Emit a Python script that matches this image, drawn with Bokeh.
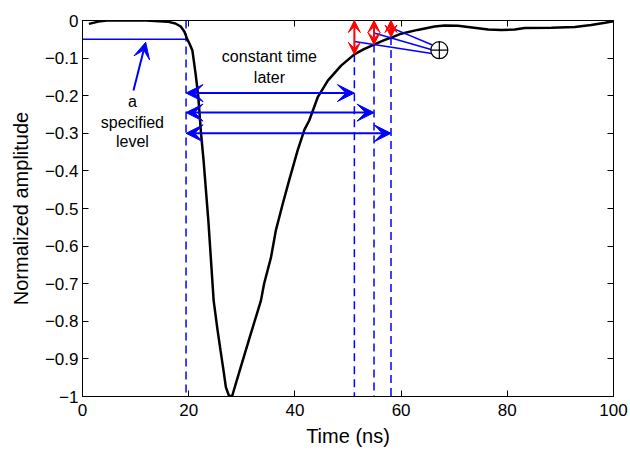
from bokeh.plotting import figure
from bokeh.models import (Range1d, FixedTicker, LinearAxis, Arrow, VeeHead,
                          ColumnDataSource)
from bokeh.core.properties import value
from bokeh.embed import file_html
from bokeh.resources import INLINE

# ---- data ----
t_ns = [1.2, 3.0, 4.6, 8.0, 12.0, 16.0, 17.5, 18.5, 19.2, 19.7, 20.2, 20.7,
        21.3, 21.8, 22.3, 22.8, 23.7, 24.7, 25.4, 26.0, 26.6, 27.0, 27.6,
        28.2, 29.0, 29.8, 31.7, 33.6, 34.2, 35.5, 36.4, 37.7, 38.9, 40.5,
        41.8, 42.7, 44.3, 46.2, 48.7, 51.2, 53.0, 54.9, 56.7, 58.4, 60.0,
        63.1, 66.3, 68.2, 70.7, 72.6, 76.4, 78.9, 81.4, 83.3, 88.3, 92.7,
        95.8, 98.4, 100.0]
amplitude = [-0.009, -0.003, 0.0, 0.0, 0.0, -0.003, -0.008, -0.016, -0.03,
             -0.049, -0.063, -0.08, -0.142, -0.201, -0.297, -0.372, -0.532,
             -0.745, -0.82, -0.878, -0.935, -0.975, -0.999, -0.998, -0.96,
             -0.922, -0.833, -0.745, -0.70, -0.63, -0.559, -0.488, -0.426,
             -0.346, -0.29, -0.266, -0.204, -0.16, -0.12, -0.09, -0.076,
             -0.064, -0.053, -0.044, -0.035, -0.025, -0.016, -0.013, -0.014,
             -0.017, -0.024, -0.025, -0.024, -0.020, -0.019, -0.017, -0.012,
             -0.006, -0.002]

specified_level = -0.05
trigger_time = 19.5
later_times = [51.2, 54.9, 58.1]
later_amps = [-0.09, -0.064, -0.044]
span_levels = [-0.193, -0.245, -0.30]
tap_amps = [-0.056, -0.033, -0.019]
sum_in_x = [65.8, 65.8, 65.9]
sum_in_y = [-0.088, -0.078, -0.065]
sum_node = (67.2, -0.079)
pointer_tail = (9.6, -0.186)
pointer_head = (11.9, -0.058)
level_text = ["a", "specified", "level"]
level_text_x = [9.4, 9.4, 9.4]
level_text_y = [-0.216, -0.27, -0.322]
const_text = ["constant time", "later"]
const_text_x = [35.2, 35.2]
const_text_y = [-0.097, -0.152]

x_ticks = [0, 20, 40, 60, 80, 100]
y_ticks = [0, -0.1, -0.2, -0.3, -0.4, -0.5, -0.6, -0.7, -0.8, -0.9, -1]
y_tick_labels = ["0", "\u22120.1", "\u22120.2", "\u22120.3", "\u22120.4",
                 "\u22120.5", "\u22120.6", "\u22120.7", "\u22120.8",
                 "\u22120.9", "\u22121"]

FONT = "Liberation Sans"
BLUE = "#0000ff"
RED = "#ff0000"

p = figure(width=630, height=450, x_range=Range1d(0, 100),
           y_range=Range1d(-1, 0), output_backend="svg",
           toolbar_location=None, min_border_left=82, min_border_right=17,
           min_border_top=20, min_border_bottom=54)
p.grid.visible = False
p.outline_line_color = "black"
p.background_fill_color = "white"

# axes
p.xaxis.ticker = FixedTicker(ticks=x_ticks)
p.yaxis.ticker = FixedTicker(ticks=y_ticks)
p.yaxis.major_label_overrides = {t: l for t, l in zip(y_ticks, y_tick_labels)}
for ax in (p.xaxis[0], p.yaxis[0]):
    ax.major_tick_in = 6
    ax.major_tick_out = 0
    ax.minor_tick_in = 0
    ax.minor_tick_out = 0
    ax.axis_line_color = "black"
    ax.major_tick_line_color = "black"
    ax.major_label_text_font = FONT
    ax.major_label_text_font_size = "17px"
    ax.major_label_text_color = "black"
    ax.axis_label_text_font = FONT
    ax.axis_label_text_font_size = "20px"
    ax.axis_label_text_font_style = "normal"
    ax.axis_label_text_color = "black"
p.xaxis.axis_label = "Time (ns)"
p.yaxis.axis_label = "Normalized amplitude"
p.xaxis.major_label_standoff = 7
p.yaxis.major_label_standoff = 4
p.xaxis.axis_label_standoff = 6
p.yaxis.axis_label_standoff = 10

# mirrored tick marks (no labels drawn)
top = LinearAxis(ticker=FixedTicker(ticks=x_ticks), major_tick_in=6,
                 major_tick_out=0, minor_tick_in=0, minor_tick_out=0,
                 major_label_text_color=None, major_label_text_font_size="1px",
                 major_label_standoff=0)
right = LinearAxis(ticker=FixedTicker(ticks=y_ticks), major_tick_in=6,
                   major_tick_out=0, minor_tick_in=0, minor_tick_out=0,
                   major_label_text_color=None,
                   major_label_text_font_size="1px", major_label_standoff=0)
p.add_layout(top, "above")
p.add_layout(right, "right")

# specified level line
p.line(x=[0, trigger_time], y=[specified_level, specified_level],
       line_color=BLUE, line_width=1.5)

# dashed verticals
p.segment(x0=[trigger_time], y0=[0], x1=[trigger_time], y1=[-1],
          line_color=BLUE, line_width=1.5, line_dash="8 5")
p.segment(x0=later_times, y0=later_amps, x1=later_times,
          y1=[-1] * len(later_times), line_color=BLUE, line_width=1.5,
          line_dash="8 5")

# pulse
p.line(x=t_ns, y=amplitude, line_color="black", line_width=2.5)

# horizontal double arrows
span_src = ColumnDataSource(dict(xs=[trigger_time] * 3, ys=span_levels,
                                 xe=later_times, ye=span_levels))
p.add_layout(Arrow(x_start="xs", y_start="ys", x_end="xe", y_end="ye",
                   source=span_src, line_color=BLUE, line_width=2,
                   start=VeeHead(size=17, fill_color=BLUE, line_color=BLUE,
                                 line_width=1),
                   end=VeeHead(size=17, fill_color=BLUE, line_color=BLUE,
                               line_width=1)))

# red vertical double arrows
red_src = ColumnDataSource(dict(xs=later_times, ys=[0] * 3,
                                xe=later_times, ye=later_amps))
p.add_layout(Arrow(x_start="xs", y_start="ys", x_end="xe", y_end="ye",
                   source=red_src, line_color=RED, line_width=2,
                   start=VeeHead(size=12, fill_color=RED, line_color=RED,
                                 line_width=1),
                   end=VeeHead(size=12, fill_color=RED, line_color=RED,
                               line_width=1)))

# lines to summing node
p.segment(x0=later_times, y0=tap_amps, x1=sum_in_x, y1=sum_in_y,
          line_color=BLUE, line_width=1.5)
p.scatter(x=[sum_node[0]], y=[sum_node[1]], marker="circle_cross", size=17,
          fill_color="white", line_color="black", line_width=1.2)

# pointer arrow
p.add_layout(Arrow(x_start=pointer_tail[0], y_start=pointer_tail[1],
                   x_end=pointer_head[0], y_end=pointer_head[1],
                   line_color=BLUE, line_width=2,
                   end=VeeHead(size=16, fill_color=BLUE, line_color=BLUE,
                               line_width=1)))

# annotations
p.text(x=level_text_x, y=level_text_y, text=level_text,
       text_font=value(FONT), text_font_size="16px", text_align="center",
       text_baseline="middle", text_color="black")
p.text(x=const_text_x, y=const_text_y, text=const_text,
       text_font=value(FONT), text_font_size="16px", text_align="center",
       text_baseline="middle", text_color="black")

open("out.html", "w").write(file_html(p, INLINE))
